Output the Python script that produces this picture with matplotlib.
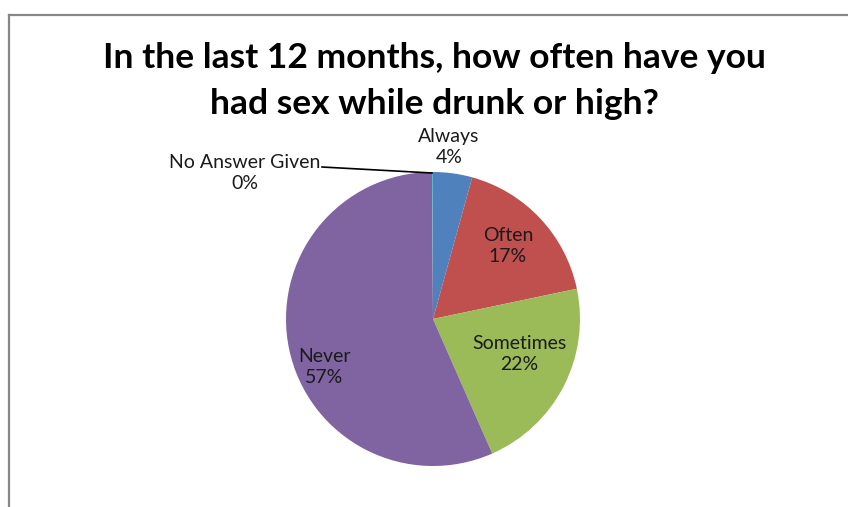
import matplotlib.pyplot as plt
from matplotlib.lines import Line2D

categories = ['Always', 'Often', 'Sometimes', 'Never', 'No Answer Given']
values = [4.3, 17.4, 21.7, 56.5, 0.1]
pct_labels = ['4%', '17%', '22%', '57%', '0%']
colors = ['#4F81BD', '#C0504D', '#9BBB59', '#8064A2', '#4BACC6']

# label centres in pixel space (y measured from the bottom)
label_pos = [(449, 360), (508, 261), (519, 153), (324, 140), (245, 334)]

W, H = 848, 507
fig = plt.figure(figsize=(W / 100, H / 100), dpi=100)
ax = fig.add_axes([0, 0, 1, 1])

# chart frame (only left and top edges fall inside the image)
fig.add_artist(Line2D([9 / W, 9 / W], [0, 1 - 15 / H], color='#868686', lw=1.6,
                      transform=fig.transFigure))
fig.add_artist(Line2D([9 / W, 1], [1 - 15 / H, 1 - 15 / H], color='#868686', lw=1.6,
                      transform=fig.transFigure))

ax.pie(values, colors=colors, startangle=90, counterclock=False,
       center=(433, 188), radius=147, frame=True,
       wedgeprops=dict(linewidth=0))
ax.set_xlim(0, W)
ax.set_ylim(0, H)
ax.set_aspect('equal')
ax.axis('off')

ax.text(434, 426, 'In the last 12 months, how often have you\nhad sex while drunk or high?',
        ha='center', va='center', fontsize=25.5, fontweight='bold', family='Lato',
        linespacing=1.5, color='black')

for name, pct, (x, y) in zip(categories, pct_labels, label_pos):
    ax.text(x, y, f'{name}\n{pct}', ha='center', va='center', fontsize=14,
            family='Lato', color='#1a1a1a', linespacing=1.3)

# leader line for the zero slice
ax.plot([322, 432], [340, 334], color='black', lw=1.2)

fig.savefig('out.png', dpi=100)
